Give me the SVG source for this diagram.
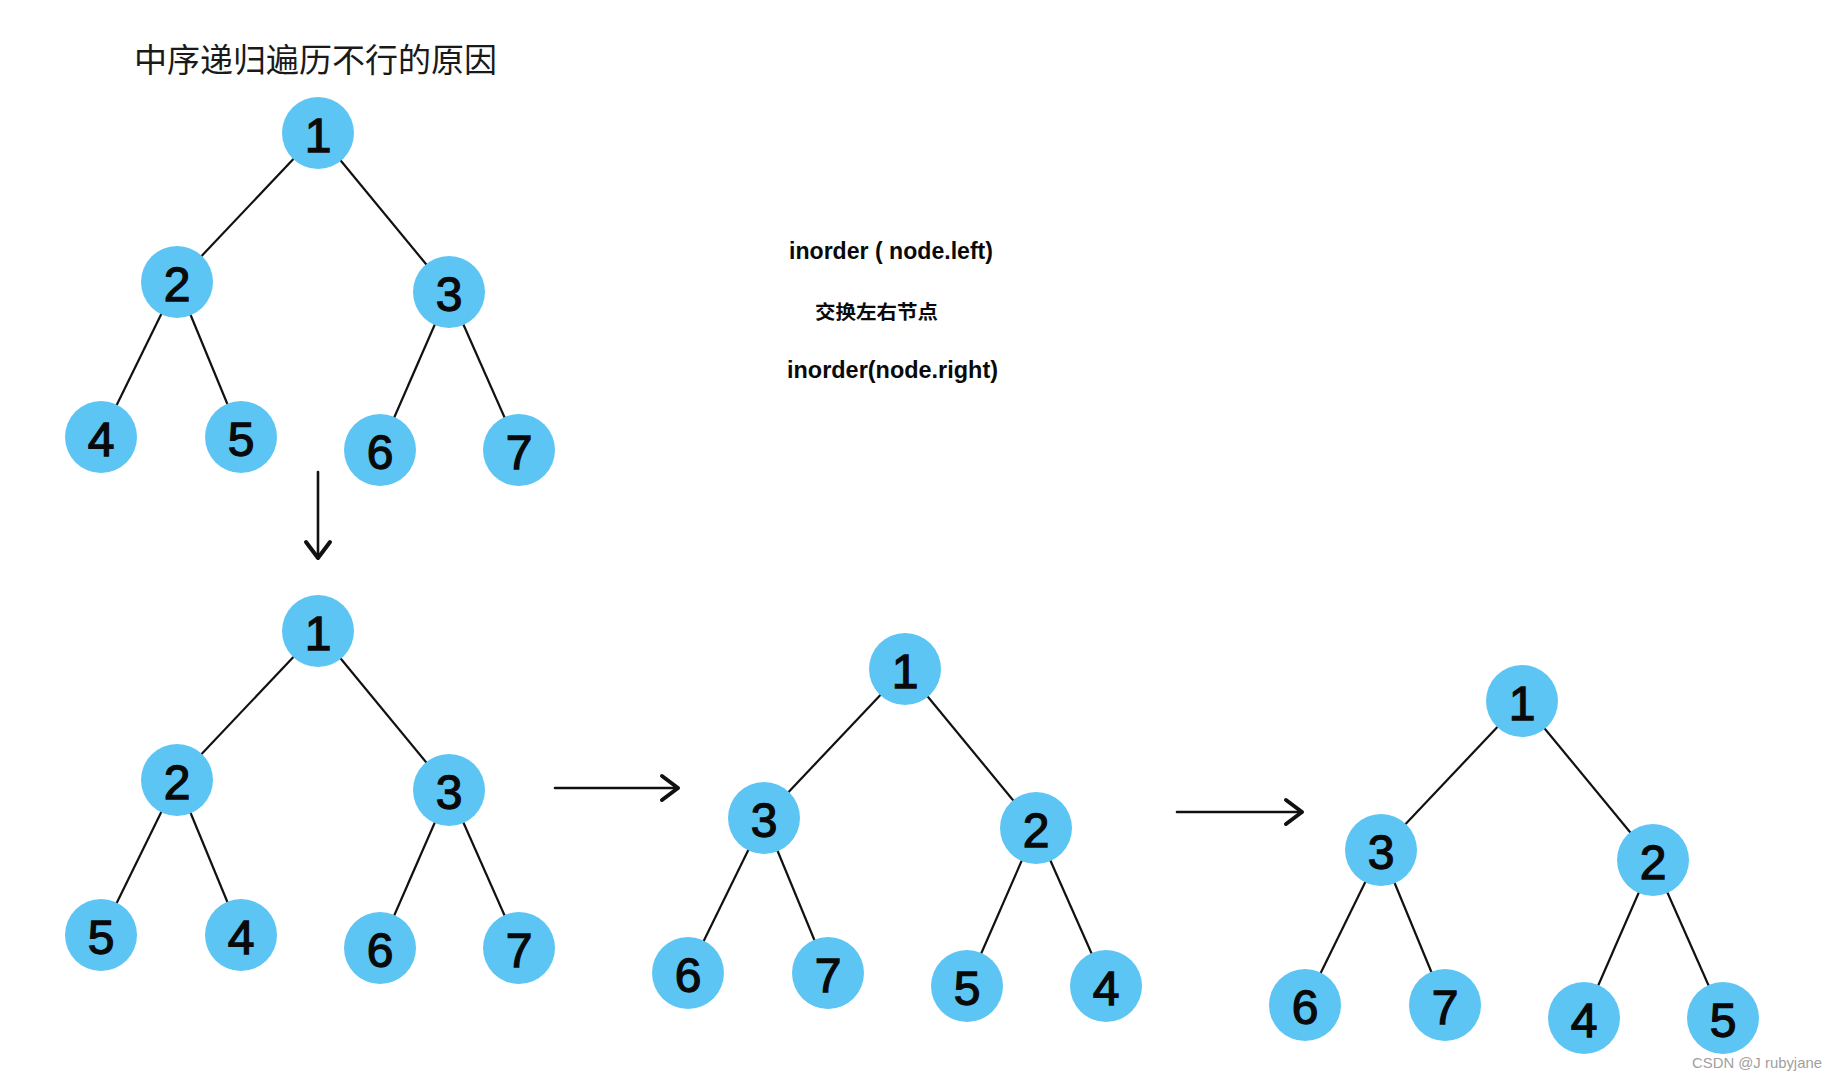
<svg xmlns="http://www.w3.org/2000/svg" width="1837" height="1080" viewBox="0 0 1837 1080">
<style>
.bg{fill:#ffffff}
.edge{stroke:#111;stroke-width:2.2;fill:none}
.arrow{stroke:#111;stroke-width:2.6;fill:none;stroke-linecap:round}
.node circle{fill:#5CC5F4}
.node text{font-family:"Liberation Sans","DejaVu Sans",sans-serif;font-size:48px;font-weight:normal;fill:#0a0a0a;stroke:#0a0a0a;stroke-width:1.3;text-anchor:middle;dominant-baseline:central}
.title{font-family:"Noto Sans CJK SC","Noto Sans",sans-serif;font-size:33px;fill:#1a1a1a}
.note{font-family:"Liberation Sans","DejaVu Sans",sans-serif;font-weight:bold;font-size:24px;fill:#0a0a0a}
.notecn{font-family:"Noto Sans CJK SC",sans-serif;font-weight:bold;font-size:19px;fill:#0a0a0a}
.wm{font-family:"Liberation Sans",Arial,sans-serif;font-size:15px;fill:#a0a0a0}
</style>
<defs>
<marker id="head" markerUnits="userSpaceOnUse" viewBox="0 0 22 30" markerWidth="22" markerHeight="30" refX="19" refY="15" orient="auto">
<path d="M3,3 L19,15 L3,27" fill="none" stroke="#111" stroke-width="4" stroke-linecap="round" stroke-linejoin="round"/>
</marker>
</defs>
<rect class="bg" x="0" y="0" width="1837" height="1080"/>
<text class="title" x="134" y="72" textLength="363" lengthAdjust="spacingAndGlyphs">中序递归遍历不行的原因</text>
<g id="notes">
<text class="note" x="789" y="259" textLength="204" lengthAdjust="spacingAndGlyphs">inorder ( node.left)</text>
<text class="notecn" x="815" y="319" textLength="123" lengthAdjust="spacingAndGlyphs">交换左右节点</text>
<text class="note" x="787" y="378" textLength="211" lengthAdjust="spacingAndGlyphs">inorder(node.right)</text>
</g>
<g id="connectors">
<g id="edges-t1" transform="translate(0,0)">
<line class="edge" x1="318" y1="133" x2="177" y2="282"/>
<line class="edge" x1="318" y1="133" x2="449" y2="292"/>
<line class="edge" x1="177" y1="282" x2="101" y2="437"/>
<line class="edge" x1="177" y1="282" x2="241" y2="437"/>
<line class="edge" x1="449" y1="292" x2="380" y2="450"/>
<line class="edge" x1="449" y1="292" x2="519" y2="450"/>
</g>
<g id="edges-t2" transform="translate(0,498)">
<line class="edge" x1="318" y1="133" x2="177" y2="282"/>
<line class="edge" x1="318" y1="133" x2="449" y2="292"/>
<line class="edge" x1="177" y1="282" x2="101" y2="437"/>
<line class="edge" x1="177" y1="282" x2="241" y2="437"/>
<line class="edge" x1="449" y1="292" x2="380" y2="450"/>
<line class="edge" x1="449" y1="292" x2="519" y2="450"/>
</g>
<g id="edges-t3" transform="translate(587,536)">
<line class="edge" x1="318" y1="133" x2="177" y2="282"/>
<line class="edge" x1="318" y1="133" x2="449" y2="292"/>
<line class="edge" x1="177" y1="282" x2="101" y2="437"/>
<line class="edge" x1="177" y1="282" x2="241" y2="437"/>
<line class="edge" x1="449" y1="292" x2="380" y2="450"/>
<line class="edge" x1="449" y1="292" x2="519" y2="450"/>
</g>
<g id="edges-t4" transform="translate(1204,568)">
<line class="edge" x1="318" y1="133" x2="177" y2="282"/>
<line class="edge" x1="318" y1="133" x2="449" y2="292"/>
<line class="edge" x1="177" y1="282" x2="101" y2="437"/>
<line class="edge" x1="177" y1="282" x2="241" y2="437"/>
<line class="edge" x1="449" y1="292" x2="380" y2="450"/>
<line class="edge" x1="449" y1="292" x2="519" y2="450"/>
</g>
<line id="arrow-down" class="arrow" x1="318" y1="472" x2="318" y2="558" marker-end="url(#head)"/>
<line id="arrow-right1" class="arrow" x1="555" y1="788" x2="678" y2="788" marker-end="url(#head)"/>
<line id="arrow-right2" class="arrow" x1="1177" y1="812" x2="1302" y2="812" marker-end="url(#head)"/>
</g>
<g id="tree1">
<g id="t1-n1" class="node"><circle cx="318" cy="133" r="36"/><text x="318" y="135">1</text></g>
<g id="t1-n2" class="node"><circle cx="177" cy="282" r="36"/><text x="177" y="284">2</text></g>
<g id="t1-n3" class="node"><circle cx="449" cy="292" r="36"/><text x="449" y="294">3</text></g>
<g id="t1-n4" class="node"><circle cx="101" cy="437" r="36"/><text x="101" y="439">4</text></g>
<g id="t1-n5" class="node"><circle cx="241" cy="437" r="36"/><text x="241" y="439">5</text></g>
<g id="t1-n6" class="node"><circle cx="380" cy="450" r="36"/><text x="380" y="452">6</text></g>
<g id="t1-n7" class="node"><circle cx="519" cy="450" r="36"/><text x="519" y="452">7</text></g>
</g>
<g id="tree2" transform="translate(0,498)">
<g id="t2-n1" class="node"><circle cx="318" cy="133" r="36"/><text x="318" y="135">1</text></g>
<g id="t2-n2" class="node"><circle cx="177" cy="282" r="36"/><text x="177" y="284">2</text></g>
<g id="t2-n3" class="node"><circle cx="449" cy="292" r="36"/><text x="449" y="294">3</text></g>
<g id="t2-n5" class="node"><circle cx="101" cy="437" r="36"/><text x="101" y="439">5</text></g>
<g id="t2-n4" class="node"><circle cx="241" cy="437" r="36"/><text x="241" y="439">4</text></g>
<g id="t2-n6" class="node"><circle cx="380" cy="450" r="36"/><text x="380" y="452">6</text></g>
<g id="t2-n7" class="node"><circle cx="519" cy="450" r="36"/><text x="519" y="452">7</text></g>
</g>
<g id="tree3" transform="translate(587,536)">
<g id="t3-n1" class="node"><circle cx="318" cy="133" r="36"/><text x="318" y="135">1</text></g>
<g id="t3-n3" class="node"><circle cx="177" cy="282" r="36"/><text x="177" y="284">3</text></g>
<g id="t3-n2" class="node"><circle cx="449" cy="292" r="36"/><text x="449" y="294">2</text></g>
<g id="t3-n6" class="node"><circle cx="101" cy="437" r="36"/><text x="101" y="439">6</text></g>
<g id="t3-n7" class="node"><circle cx="241" cy="437" r="36"/><text x="241" y="439">7</text></g>
<g id="t3-n5" class="node"><circle cx="380" cy="450" r="36"/><text x="380" y="452">5</text></g>
<g id="t3-n4" class="node"><circle cx="519" cy="450" r="36"/><text x="519" y="452">4</text></g>
</g>
<g id="tree4" transform="translate(1204,568)">
<g id="t4-n1" class="node"><circle cx="318" cy="133" r="36"/><text x="318" y="135">1</text></g>
<g id="t4-n3" class="node"><circle cx="177" cy="282" r="36"/><text x="177" y="284">3</text></g>
<g id="t4-n2" class="node"><circle cx="449" cy="292" r="36"/><text x="449" y="294">2</text></g>
<g id="t4-n6" class="node"><circle cx="101" cy="437" r="36"/><text x="101" y="439">6</text></g>
<g id="t4-n7" class="node"><circle cx="241" cy="437" r="36"/><text x="241" y="439">7</text></g>
<g id="t4-n4" class="node"><circle cx="380" cy="450" r="36"/><text x="380" y="452">4</text></g>
<g id="t4-n5" class="node"><circle cx="519" cy="450" r="36"/><text x="519" y="452">5</text></g>
</g>
<text class="wm" x="1692" y="1068" textLength="130" lengthAdjust="spacingAndGlyphs">CSDN @J rubyjane</text>
</svg>
